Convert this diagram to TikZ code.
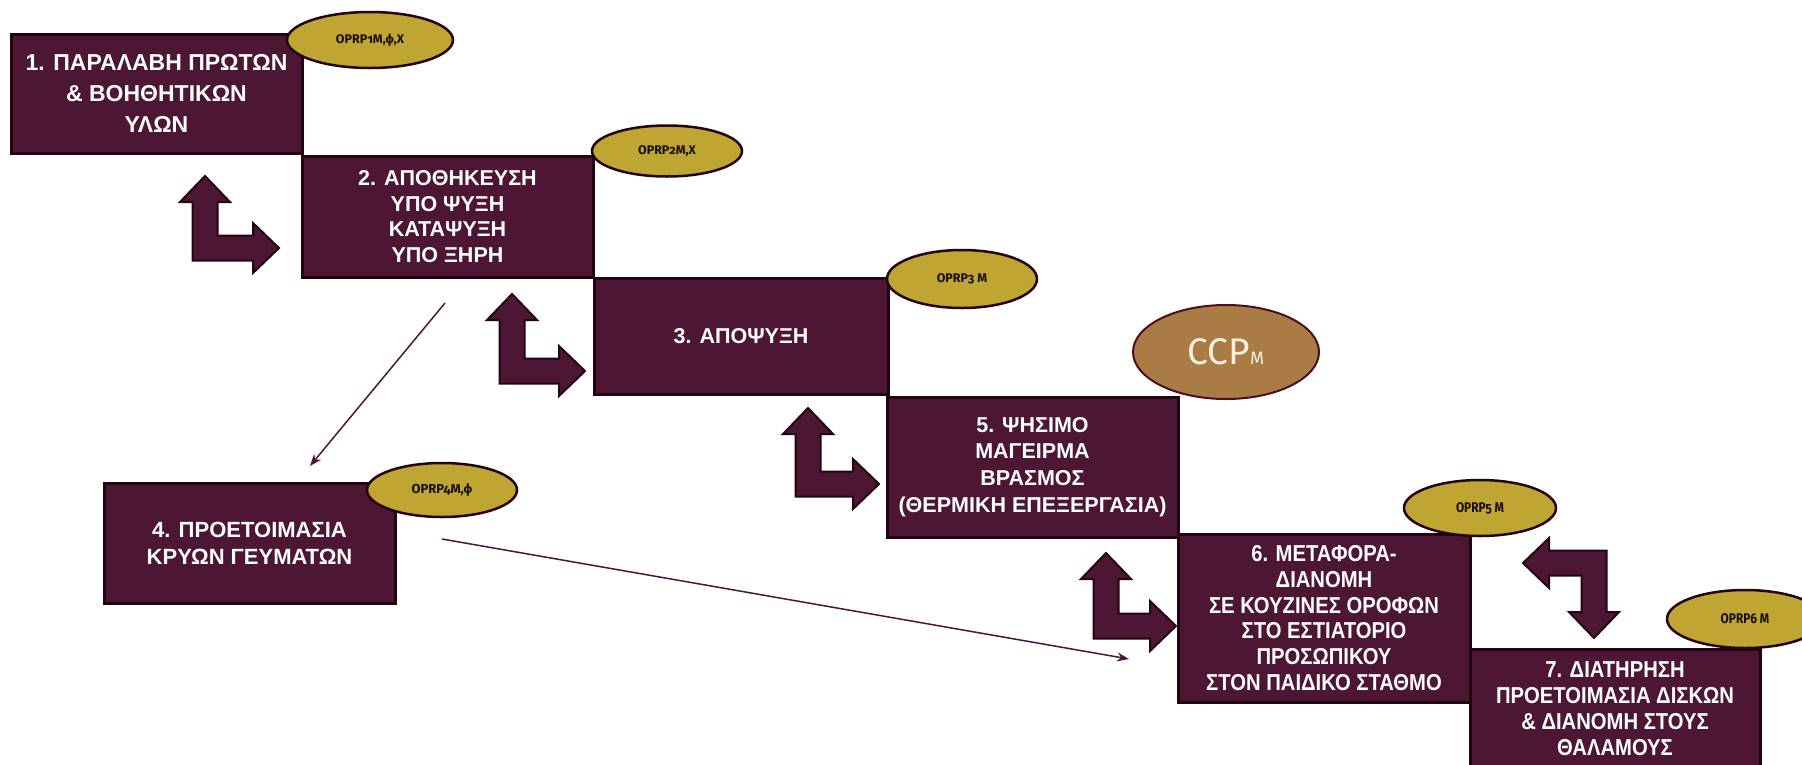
\documentclass[tikz,border=0pt]{standalone}
\usepackage{fontspec}
\setmainfont{Liberation Sans}
\newfontfamily\narrowfont[FakeStretch=0.88]{Liberation Sans}
\newfontfamily\ellfont[Numbers=OldStyle]{Fira Sans}
\newfontfamily\ellnarrow[Numbers=OldStyle,FakeStretch=0.85]{Fira Sans}
\usetikzlibrary{shapes.geometric,arrows.meta}
\definecolor{boxfill}{HTML}{4D1634}
\definecolor{boxline}{HTML}{220510}
\definecolor{gold}{HTML}{BFA532}
\definecolor{elltext}{HTML}{1A0E08}
\definecolor{ccpfill}{HTML}{AA7C45}
\definecolor{ccpline}{HTML}{4A0F1E}
\definecolor{ccptext}{HTML}{F7F0E0}
\tikzset{
  stepbox/.style={draw=boxline, line width=3pt, fill=boxfill, text=white, align=center, inner sep=0pt, minimum width=291pt},
  oprp/.style={ellipse, draw=boxline, line width=2.5pt, fill=gold, text=elltext, inner sep=0pt},
  blockarrow/.style={draw=boxline, line width=2pt, fill=boxfill, line join=miter},
  thinarrow/.style={draw=boxfill, line width=1.5pt, -{Stealth[length=12pt,width=9pt]}},
}
\newcommand{\bentUR}[4]{%
  \draw[blockarrow] (#1,#3) -- ({#1+25},{#3+26}) -- ({#1+12.5},{#3+26}) -- ({#1+12.5},{#2-12.5}) -- ({#4-26},{#2-12.5}) -- ({#4-26},{#2-25}) -- (#4,#2) -- ({#4-26},{#2+25}) -- ({#4-26},{#2+12.5}) -- ({#1-12.5},{#2+12.5}) -- ({#1-12.5},{#3+26}) -- ({#1-25},{#3+26}) -- cycle;}
\newcommand{\bentLD}[4]{%
  \draw[blockarrow] (#1,#2) -- ({#1+26},{#2-25}) -- ({#1+26},{#2-12.5}) -- ({#3+12.5},{#2-12.5}) -- ({#3+12.5},{#4-26}) -- ({#3+25},{#4-26}) -- (#3,#4) -- ({#3-25},{#4-26}) -- ({#3-12.5},{#4-26}) -- ({#3-12.5},{#2+12.5}) -- ({#1+26},{#2+12.5}) -- ({#1+26},{#2+25}) -- cycle;}
\begin{document}
\begin{tikzpicture}[x=1pt,y=-1pt]
\fill[white] (0,0) rectangle (1802,764);
\useasboundingbox (0,0) rectangle (1802,764);

% step boxes
\node[stepbox, minimum height=119pt, font={\bfseries\fontsize{23}{31}\selectfont}] (b1) at (156.5,93.5) {1. ΠΑΡΑΛΑΒΗ ΠΡΩΤΩΝ\\ \& ΒΟΗΘΗΤΙΚΩΝ\\ ΥΛΩΝ};
\node[stepbox, minimum height=121pt, font={\bfseries\fontsize{21.5}{25.7}\selectfont}] (b2) at (447.5,216.5) {2. ΑΠΟΘΗΚΕΥΣΗ\\ ΥΠΟ ΨΥΞΗ\\ ΚΑΤΑΨΥΞΗ\\ ΥΠΟ ΞΗΡΗ};
\node[stepbox, minimum width=294pt, minimum height=116pt, font={\bfseries\fontsize{21.5}{25.7}\selectfont}] (b3) at (741,336) {3. ΑΠΟΨΥΞΗ};
\node[stepbox, minimum height=140pt, font={\bfseries\fontsize{21.5}{26.7}\selectfont}] (b5) at (1032.5,467) {5. ΨΗΣΙΜΟ\\ ΜΑΓΕΙΡΜΑ\\ ΒΡΑΣΜΟΣ\\ (ΘΕΡΜΙΚΗ ΕΠΕΞΕΡΓΑΣΙΑ)};
\node[stepbox, minimum height=120pt, font={\bfseries\fontsize{22}{27}\selectfont}] (b4) at (249.5,543) {4. ΠΡΟΕΤΟΙΜΑΣΙΑ\\ ΚΡΥΩΝ ΓΕΥΜΑΤΩΝ};
\node[stepbox, minimum width=292pt, minimum height=168pt, font={\narrowfont\bfseries\fontsize{23}{25.7}\selectfont}] (b6) at (1324,618) {6. ΜΕΤΑΦΟΡΑ-\\ ΔΙΑΝΟΜΗ\\ ΣΕ ΚΟΥΖΙΝΕΣ ΟΡΟΦΩΝ\\ ΣΤΟ ΕΣΤΙΑΤΟΡΙΟ\\ ΠΡΟΣΩΠΙΚΟΥ\\ ΣΤΟΝ ΠΑΙΔΙΚΟ ΣΤΑΘΜΟ};
\node[stepbox, minimum width=290pt, minimum height=119pt, font={\narrowfont\bfseries\fontsize{23}{26}\selectfont}] (b7) at (1615,708.5) {7. ΔΙΑΤΗΡΗΣΗ\\ ΠΡΟΕΤΟΙΜΑΣΙΑ ΔΙΣΚΩΝ\\ \& ΔΙΑΝΟΜΗ ΣΤΟΥΣ\\ ΘΑΛΑΜΟΥΣ};

% block arrows
\bentUR{205}{248}{176}{279}
\bentUR{512}{371}{294}{585}
\bentUR{808}{484}{408}{879}
\bentUR{1106}{626}{553}{1176}
\bentLD{1523}{563}{1594}{638}

% thin arrows
\coordinate (t1s) at (445,303);
\coordinate (t1e) at (310,466);
\coordinate (t2s) at (442,539);
\coordinate (t2e) at (1129,659);
\draw[thinarrow] (t1s) -- (t1e);
\draw[thinarrow] (t2s) -- (t2e);

% ellipses
\node[oprp, minimum width=166pt, minimum height=56pt, font={\ellfont\bfseries\fontsize{12.5}{13}\selectfont}] (e1) at (370,40) {OPRP1M,ϕ,X};
\node[oprp, minimum width=150pt, minimum height=51pt, font={\ellfont\bfseries\fontsize{12.5}{13}\selectfont}] (e2) at (667,151) {OPRP2M,X};
\node[oprp, minimum width=150pt, minimum height=58pt, font={\ellfont\bfseries\fontsize{12.5}{13}\selectfont}] (e3) at (962,279) {OPRP3 M};
\node[oprp, minimum width=150pt, minimum height=54pt, font={\ellfont\bfseries\fontsize{13}{13}\selectfont}] (e4) at (442,490) {OPRP4M,ϕ};
\node[oprp, minimum width=152pt, minimum height=56pt, font={\ellnarrow\bfseries\fontsize{14}{14}\selectfont}] (e5) at (1480,508) {OPRP5 M};
\node[oprp, minimum width=156pt, minimum height=58pt, font={\ellnarrow\bfseries\fontsize{14}{14}\selectfont}] (e6) at (1745,619) {OPRP6 M};
\node[ellipse, draw=ccpline, line width=2pt, fill=ccpfill, minimum width=186pt, minimum height=94pt, inner sep=0pt, text=ccptext] (ccp) at (1226,352) {\ellfont\fontsize{37}{37}\selectfont CCP{\fontsize{18}{18}\selectfont M}};
\end{tikzpicture}
\end{document}
